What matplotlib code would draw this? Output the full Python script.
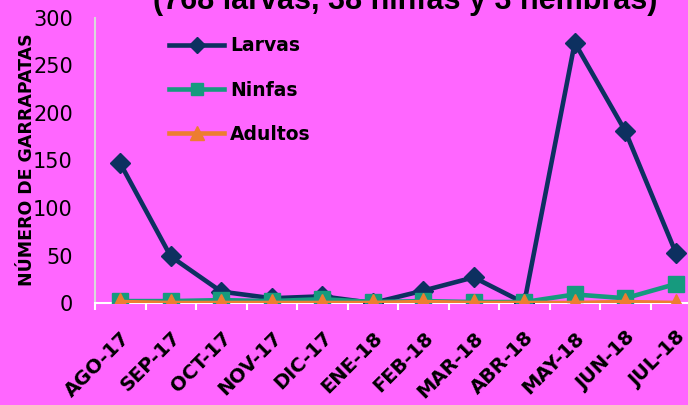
import matplotlib
matplotlib.use('Agg')
import matplotlib.pyplot as plt
import numpy as np

months = ['AGO-17', 'SEP-17', 'OCT-17', 'NOV-17', 'DIC-17', 'ENE-18',
          'FEB-18', 'MAR-18', 'ABR-18', 'MAY-18', 'JUN-18', 'JUL-18']
larvas = [147, 49, 12, 5, 7, 0, 13, 27, 0, 274, 181, 53]
ninfas = [2, 2, 3, 2, 4, 1, 2, 1, 1, 9, 5, 20]
adultos = [1, 0, 0, 0, 0, 0, 1, 0, 0, 0, 1, 0]

bg = '#FF66FF'
fig = plt.figure(figsize=(6.88, 4.05), dpi=100, facecolor=bg)
ax = fig.add_axes([95/688, 1 - 303/405, 606/688, 285/405])
ax.set_facecolor(bg)

x = np.arange(len(months))
ax.plot(x, larvas, color='#0D3060', lw=3.3, marker='D', ms=10, label='Larvas', zorder=3)
ax.plot(x, ninfas, color='#169A7E', lw=3.3, marker='s', ms=11, label='Ninfas', zorder=4)
ax.plot(x, adultos, color='#ED7D31', lw=3.3, marker='^', ms=13, label='Adultos', zorder=5)

ax.set_xlim(-0.5, len(months) - 0.5)
ax.set_ylim(0, 300)
ax.set_yticks(range(0, 301, 50))
ax.tick_params(axis='y', length=0, pad=16, labelsize=15)
ax.set_xticks(x)
ax.set_xticklabels(months, rotation=45, ha='right', rotation_mode='anchor',
                   fontweight='bold', fontsize=14)
ax.tick_params(axis='x', which='major', length=0, pad=18)
ax.set_xticks(np.arange(-0.5, len(months), 1), minor=True)
ax.tick_params(axis='x', which='minor', length=5, width=1.5, color='white')

for s in ['top', 'right']:
    ax.spines[s].set_visible(False)
ax.spines['left'].set_color('#D9D9D9')
ax.spines['left'].set_linewidth(1.5)
ax.spines['bottom'].set_color('white')
ax.spines['bottom'].set_linewidth(1.5)

leg = ax.legend(loc='upper left', bbox_to_anchor=(0.095, 0.995), frameon=False,
                prop={'weight': 'bold', 'size': 13.5}, handlelength=2.9,
                labelspacing=1.35, handletextpad=0.35, markerscale=0.8)

fig.text(27/688, 0.605, 'NÚMERO DE GARRAPATAS', rotation=90, ha='center',
         va='center', fontweight='bold', fontsize=12.5)
fig.text(405/688, 1 - 9/405, '(768 larvas, 38 ninfas y 3 hembras)',
         ha='center', va='baseline', fontweight='bold', fontsize=22,
         family='Liberation Sans')

fig.savefig('out.png', dpi=100, facecolor=bg)
